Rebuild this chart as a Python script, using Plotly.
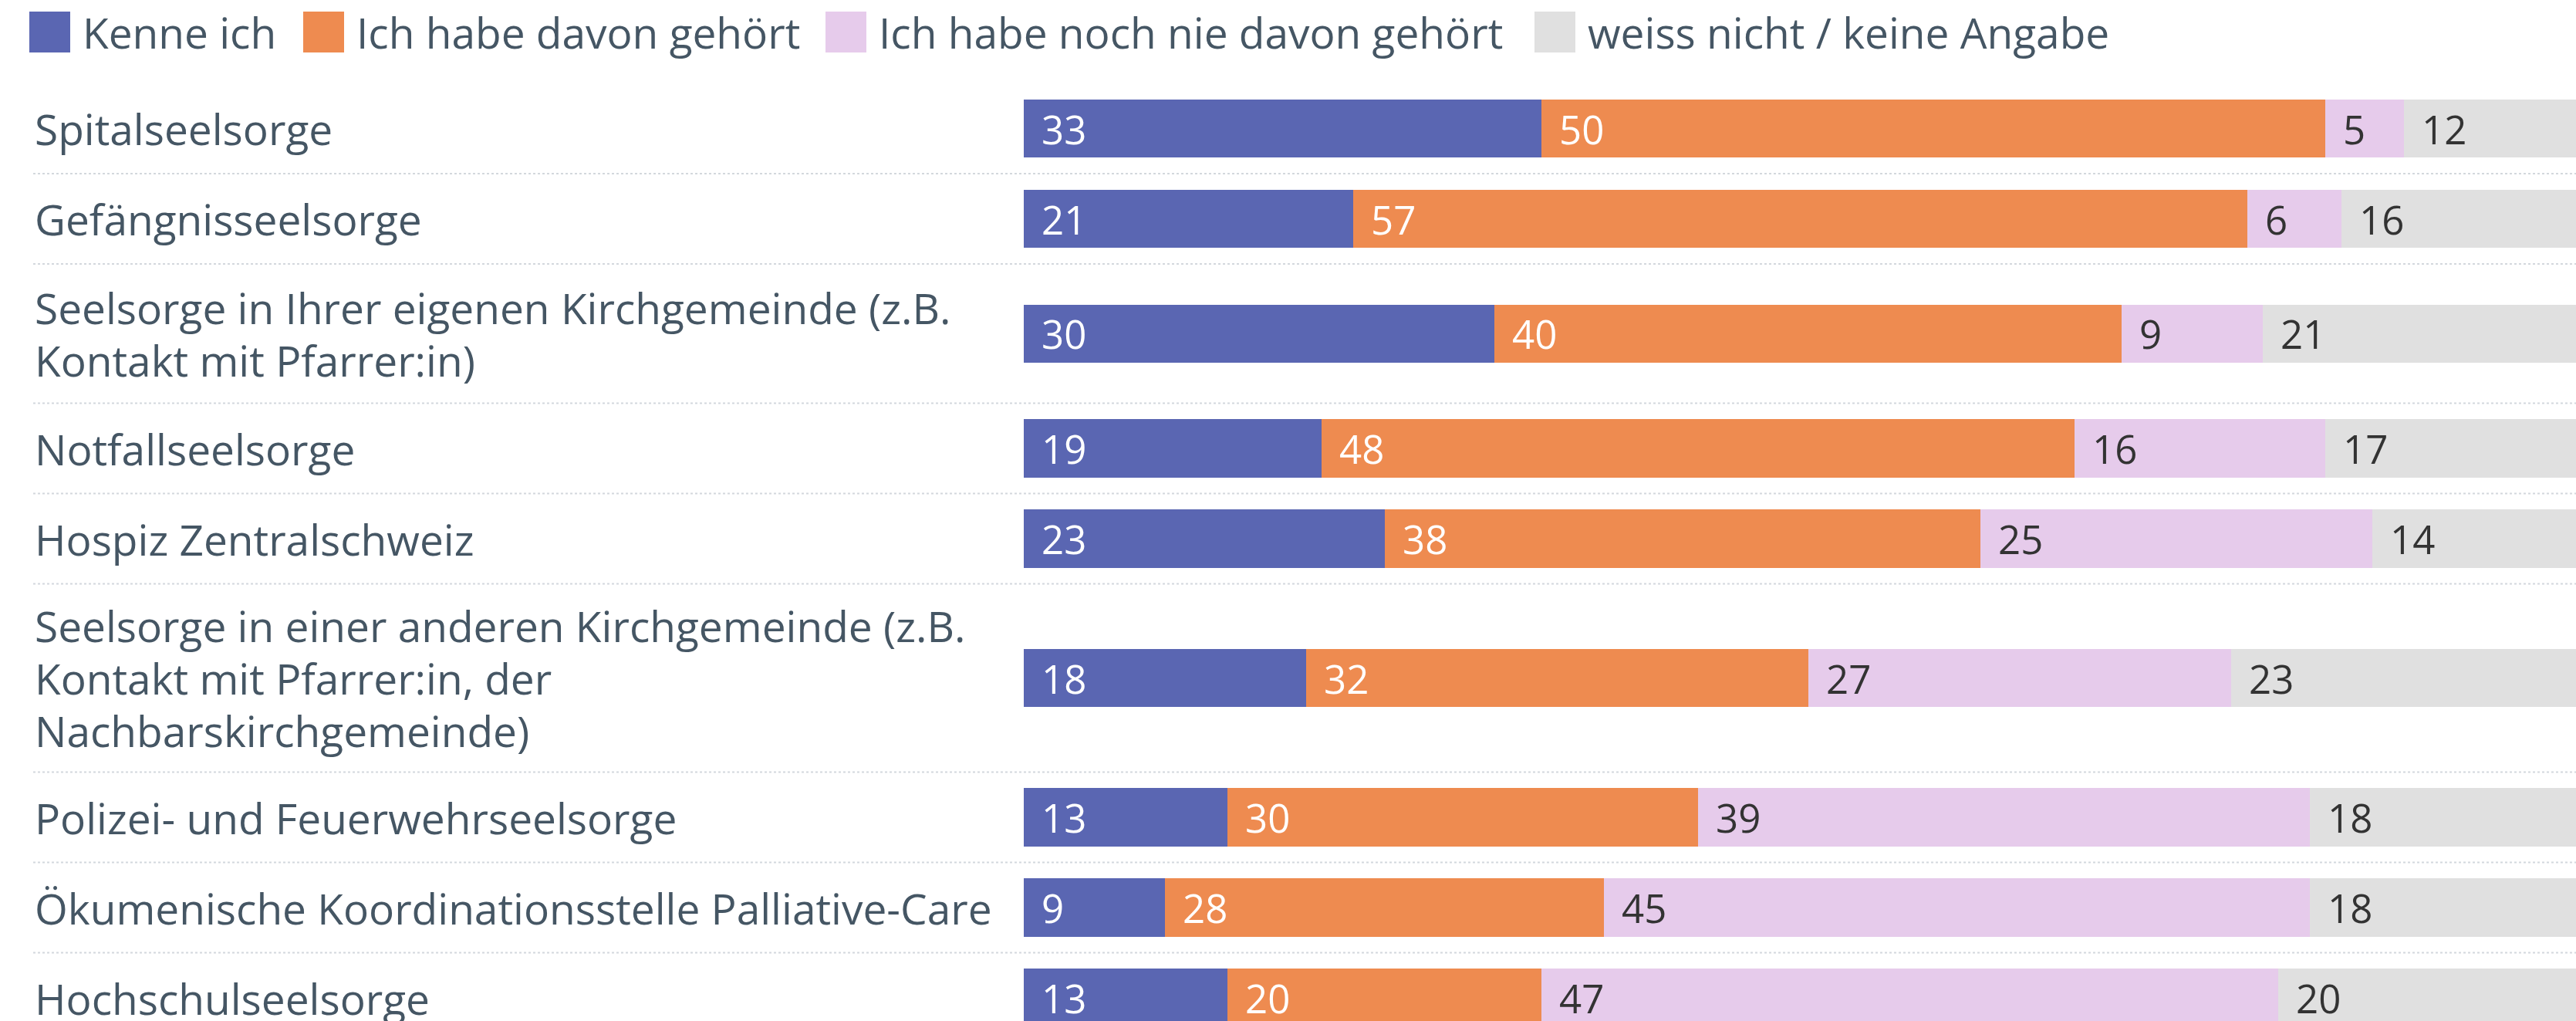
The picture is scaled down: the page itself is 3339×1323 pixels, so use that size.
import plotly.graph_objects as go

# ---------------- data ----------------
categories = [
    "Spitalseelsorge",
    "Gefängnisseelsorge",
    "Seelsorge in Ihrer eigenen Kirchgemeinde (z.B.<br>Kontakt mit Pfarrer:in)",
    "Notfallseelsorge",
    "Hospiz Zentralschweiz",
    "Seelsorge in einer anderen Kirchgemeinde (z.B.<br>Kontakt mit Pfarrer:in, der<br>Nachbarskirchgemeinde)",
    "Polizei- und Feuerwehrseelsorge",
    "Ökumenische Koordinationsstelle Palliative-Care",
    "Hochschulseelsorge",
]
series_names = ["Kenne ich", "Ich habe davon gehört",
                "Ich habe noch nie davon gehört", "weiss nicht / keine Angabe"]
kenne_ich = [33, 21, 30, 19, 23, 18, 13, 9, 13]
davon_gehoert = [50, 57, 40, 48, 38, 32, 30, 28, 20]
nie_gehoert = [5, 6, 9, 16, 25, 27, 39, 45, 47]
weiss_nicht = [12, 16, 21, 17, 14, 23, 18, 18, 20]

# ---------------- style ----------------
colors = ["#5a66b2", "#ee8b50", "#e6cbeb", "#e0e0e0"]
value_colors = ["#ffffff", "#ffffff", "#333333", "#333333"]
TEXT_COLOR = "#455664"
FONT = "Open Sans"
W, H = 3339, 1323
BAR_X0 = 1327          # px where bars start
PX_PER_UNIT = 20.33    # px per percentage point
ROW_TOP = 108
ROW_BASE = 117
ROW_EXTRA = 63.5
BAR_H = 75.5
LINE_H = 68
LABEL_X = 43
LABEL_SIZE = 55
VALUE_SIZE = 51
VALUE_PAD = 21

series = [kenne_ich, davon_gehoert, nie_gehoert, weiss_nicht]

# row geometry (y axis measured in px from top)
centers, bounds = [], []
y = ROW_TOP
for cat in categories:
    n = len(cat.split("<br>"))
    h = ROW_BASE + ROW_EXTRA * (n - 1)
    centers.append(y + h / 2)
    y += h
    bounds.append(y)

fig = go.Figure()
for name, vals, col in zip(series_names, series, colors):
    fig.add_trace(go.Bar(
        y=centers, x=vals, orientation="h", name=name,
        marker=dict(color=col, line=dict(width=0)),
        width=BAR_H, showlegend=False,
        hovertemplate=name + ": %{x}<extra></extra>",
    ))

annotations = []
shapes = []

# value labels
for i in range(len(categories)):
    start = 0
    for s, vals in enumerate(series):
        annotations.append(dict(
            x=start, y=centers[i], xref="x", yref="y", xshift=VALUE_PAD,
            xanchor="left", yanchor="middle", showarrow=False,
            text=str(vals[i]),
            font=dict(family=FONT, size=VALUE_SIZE, color=value_colors[s]),
        ))
        start += vals[i]

# category labels (left aligned, one annotation per line)
for i, cat in enumerate(categories):
    lines = cat.split("<br>")
    n = len(lines)
    for j, line in enumerate(lines):
        annotations.append(dict(
            x=LABEL_X / W, y=centers[i] + (j - (n - 1) / 2) * LINE_H,
            xref="paper", yref="y", xanchor="left", yanchor="middle",
            showarrow=False, text=line,
            font=dict(family=FONT, size=LABEL_SIZE, color=TEXT_COLOR),
        ))

# dotted separators between rows
for b in bounds[:-1]:
    shapes.append(dict(
        type="line", xref="paper", yref="y", x0=LABEL_X / W, x1=1,
        y0=b, y1=b, line=dict(color="#d3d8dd", width=2, dash="dot"),
    ))

# legend (custom, squares + text)
legend_sq_x = [38, 393, 1070, 1989]
LEG_SQ = 53
LEG_Y0, LEG_Y1 = 15, 68
for name, col, x0 in zip(series_names, colors, legend_sq_x):
    shapes.append(dict(
        type="rect", xref="paper", yref="y",
        x0=x0 / W, x1=(x0 + LEG_SQ) / W, y0=LEG_Y0, y1=LEG_Y1,
        fillcolor=col, line=dict(width=0),
    ))
    annotations.append(dict(
        x=(x0 + LEG_SQ + 14) / W, y=(LEG_Y0 + LEG_Y1) / 2,
        xref="paper", yref="y", xanchor="left", yanchor="middle",
        showarrow=False, text=name,
        font=dict(family=FONT, size=LABEL_SIZE, color=TEXT_COLOR),
    ))

fig.update_layout(
    width=W, height=H,
    margin=dict(l=0, r=0, t=0, b=0),
    barmode="stack", bargap=0,
    paper_bgcolor="white", plot_bgcolor="white",
    xaxis=dict(domain=[BAR_X0 / W, 1], range=[0, (W - BAR_X0) / PX_PER_UNIT],
               visible=False, showgrid=False, zeroline=False, fixedrange=True),
    yaxis=dict(range=[H, 0], visible=False, showgrid=False, zeroline=False,
               fixedrange=True),
    annotations=annotations, shapes=shapes,
    font=dict(family=FONT, color=TEXT_COLOR),
)

fig.write_html(
    "out.html",
    config={"displayModeBar": False},
    post_script="document.body.style.margin='0';document.body.style.overflow='hidden';",
)
